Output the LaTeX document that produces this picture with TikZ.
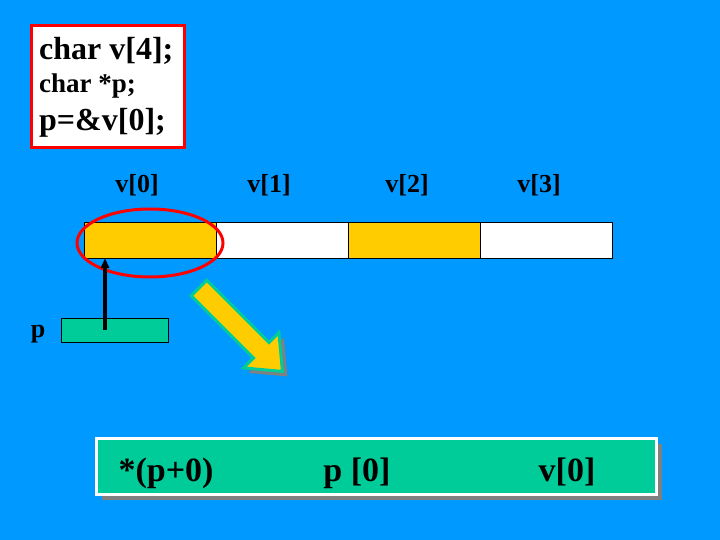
\documentclass[tikz,border=0pt]{standalone}
\usepackage{fontspec}
\setmainfont{Liberation Serif}
\usetikzlibrary{positioning,arrows.meta,shadows}
\definecolor{slideblue}{RGB}{0,153,255}
\definecolor{cellgold}{RGB}{255,204,0}
\definecolor{ptrgreen}{RGB}{0,204,153}
\tikzset{cell/.style={draw=black,thin,minimum width=132pt,minimum height=36pt,
        inner sep=0pt,outer sep=0pt,anchor=north west},
        idx/.style={font=\fontsize{26}{30}\selectfont\bfseries,anchor=base},
        codeline/.style={anchor=base west,inner sep=0pt},
        bigtext/.style={font=\fontsize{34}{38}\selectfont\bfseries,anchor=base}}

\begin{document}
\begin{tikzpicture}[x=1pt,y=-1pt]
  \fill[slideblue] (0,0) rectangle (720,540);
  \useasboundingbox (0,0) rectangle (720,540);
  % declarations
  \node[draw=red,line width=3pt,fill=white,minimum width=153pt,minimum height=122pt,
        anchor=north west] (code) at (30,24) {};
  \node[codeline,font=\fontsize{32}{36}\selectfont\bfseries] (decla) at (39,60) {char v[4];};
  \node[codeline,font=\fontsize{27}{30}\selectfont\bfseries] (declp) at (39,93) {char *p;};
  \node[codeline,font=\fontsize{32}{36}\selectfont\bfseries] (assign) at (39,131) {p=\&v[0];};
  % array v
  \foreach \i/\c in {0/cellgold,1/white,2/cellgold,3/white}
     \node[cell,fill=\c] (cell\i) at (84+132*\i,222) {};
  \foreach \i/\x in {0/137,1/269,2/407,3/539}
     \node[idx] (lab\i) at (\x,193) {v[\i]};
  \draw[red,line width=3pt] (150,243) ellipse (73pt and 34pt);
  % pointer p
  \node[idx] (plab) at (38,337) {p};
  \node[draw=black,thin,fill=ptrgreen,minimum width=107pt,minimum height=24pt,
        anchor=north west] (ptr) at (61,318) {};
  \coordinate (ptrtail) at (105,330);
  \draw[line width=3.5pt,-{Triangle[length=10pt,width=8pt]}] (ptrtail) -- (ptrtail |- cell0.south);
  % fat arrow
  \begin{scope}[shift={(204,293)},rotate=-45]
    \fill[gray] (0,-11) -- (88,-11) -- (88,-25) -- (118,0) -- (88,25) -- (88,11) -- (0,11) -- cycle;
  \end{scope}
  \begin{scope}[shift={(199,288)},rotate=-45]
    \draw[ptrgreen,fill=cellgold,line width=3pt,line join=miter]
       (0,-11) -- (88,-11) -- (88,-25) -- (118,0) -- (88,25) -- (88,11) -- (0,11) -- cycle;
  \end{scope}
  % equivalent forms
  \node[draw=white,line width=3pt,fill=ptrgreen,minimum width=560pt,minimum height=56pt,
        anchor=north west,drop shadow={shadow xshift=5pt,shadow yshift=-5pt,fill=gray,opacity=1}]
        (result) at (95,437) {};
  \node[bigtext] (form1) at (166,481) {*(p+0)};
  \node[bigtext] (form2) at (357,481) {p [0]};
  \node[bigtext] (form3) at (567,481) {v[0]};
\end{tikzpicture}
\end{document}
